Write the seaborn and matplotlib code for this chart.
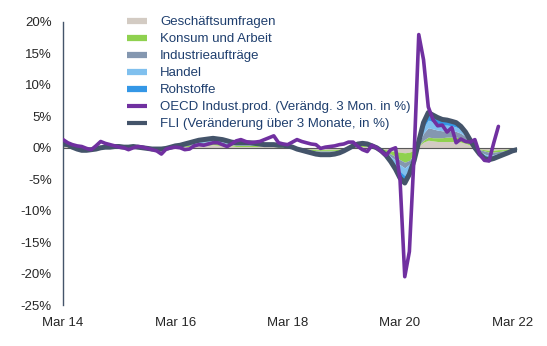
import numpy as np
import pandas as pd
import matplotlib
matplotlib.use("Agg")
import matplotlib.pyplot as plt
import seaborn as sns
from matplotlib.lines import Line2D

# Monthly observations, March 2014 to April 2022
months = pd.date_range("2014-03-01", periods=98, freq="MS")

# FLI change over 3 months, in %
fli = [0.6, 0.5, 0.1, -0.2, -0.4, -0.4, -0.3, -0.2, 0.0, 0.1,
       0.1, 0.2, 0.2, 0.1, 0.1, 0.2, 0.1, 0.0, -0.1, -0.2,
       -0.2, -0.2, -0.1, 0.1, 0.3, 0.4, 0.6, 0.8, 1.0, 1.2,
       1.3, 1.4, 1.5, 1.4, 1.3, 1.1, 0.9, 0.8, 0.8, 0.8,
       0.8, 0.7, 0.6, 0.5, 0.5, 0.5, 0.4, 0.4, 0.3, 0.1,
       -0.2, -0.4, -0.6, -0.8, -1.0, -1.1, -1.1, -1.1, -1.0, -0.8,
       -0.5, -0.1, 0.3, 0.6, 0.7, 0.6, 0.3, 0.0, -0.5, -1.2,
       -2.2, -3.4, -4.8, -5.6, -4.2, -2.0, 1.0, 4.0, 5.6, 5.2,
       4.8, 4.5, 4.4, 4.2, 4.0, 3.4, 2.5, 1.2, 0.0, -1.0,
       -1.7, -1.9, -1.7, -1.4, -1.1, -0.8, -0.5, -0.3]

# OECD industrial production, change over 3 months in % (through Dec 2021)
oecd = [1.3, 0.8, 0.5, 0.3, 0.2, -0.1, -0.3, 0.3, 1.0, 0.7,
        0.5, 0.3, 0.1, 0.0, -0.3, 0.0, 0.2, 0.1, -0.1, -0.3,
        -0.5, -1.0, -0.2, 0.0, 0.1, 0.0, -0.3, -0.2, 0.3, 0.5,
        0.4, 0.6, 0.8, 0.8, 0.5, 0.2, 0.6, 1.1, 1.3, 1.0,
        0.8, 0.9, 1.0, 1.3, 1.6, 1.9, 0.8, 0.6, 0.5, 0.9,
        1.3, 1.0, 0.8, 0.6, 0.5, -0.1, 0.1, 0.2, 0.3, 0.5,
        0.6, 0.9, 0.9, 0.2, -0.3, -0.6, 0.4, 0.0, -0.6, -1.2,
        -0.3, 0.0, -5.0, -20.5, -16.5, -1.0, 18.0, 14.0, 6.5, 4.5,
        3.5, 3.6, 2.5, 3.2, 0.8, 1.4, 1.0, 0.9, 1.3, -1.0,
        -2.0, -2.1, 0.8, 3.4]

# FLI contributions by component
geschaeftsumfragen = [0.2, 0.2, 0.0, -0.1, -0.1, -0.1, -0.1, -0.1, 0.0, 0.0,
                      0.0, 0.1, 0.1, 0.0, 0.0, 0.1, 0.0, 0.0, 0.0, -0.1,
                      -0.1, -0.1, 0.0, 0.0, 0.1, 0.1, 0.2, 0.2, 0.3, 0.4,
                      0.4, 0.4, 0.5, 0.4, 0.4, 0.3, 0.3, 0.2, 0.2, 0.2,
                      0.2, 0.2, 0.2, 0.2, 0.2, 0.2, 0.1, 0.1, 0.1, 0.0,
                      -0.1, -0.1, -0.2, -0.2, -0.3, -0.3, -0.3, -0.3, -0.3, -0.2,
                      -0.2, 0.0, 0.1, 0.2, 0.2, 0.2, 0.1, 0.0, -0.2, -0.3,
                      -0.5, -0.6, -0.7, -0.8, -0.7, -0.4, 0.3, 0.9, 1.2, 1.1,
                      1.0, 1.0, 1.0, 1.0, 1.0, 0.9, 0.7, 0.4, 0.1, -0.2,
                      -0.3, -0.4, -0.4, -0.3, -0.3, -0.2, -0.1, -0.1]
konsum_arbeit = [0.1, 0.1, 0.0, 0.0, -0.1, -0.1, -0.1, 0.0, 0.0, 0.0,
                 0.0, 0.0, 0.0, 0.0, 0.0, 0.0, 0.0, 0.0, 0.0, 0.0,
                 0.0, 0.0, 0.0, 0.0, 0.1, 0.1, 0.1, 0.2, 0.2, 0.2,
                 0.3, 0.3, 0.3, 0.3, 0.3, 0.2, 0.2, 0.2, 0.2, 0.2,
                 0.2, 0.2, 0.1, 0.1, 0.1, 0.1, 0.1, 0.1, 0.1, 0.0,
                 0.0, -0.1, -0.1, -0.2, -0.2, -0.2, -0.2, -0.2, -0.2, -0.2,
                 -0.1, 0.0, 0.1, 0.1, 0.2, 0.1, 0.1, 0.0, -0.1, -0.3,
                 -0.5, -0.8, -1.2, -1.5, -1.3, -0.6, 0.1, 0.3, 0.5, 0.5,
                 0.6, 0.6, 0.7, 0.7, 0.7, 0.6, 0.5, 0.3, 0.1, -0.1,
                 -0.2, -0.3, -0.3, -0.3, -0.2, -0.2, -0.1, -0.1]
industrieauftraege = [0.1, 0.1, 0.0, 0.0, -0.1, -0.1, 0.0, 0.0, 0.0, 0.0,
                      0.0, 0.0, 0.0, 0.0, 0.0, 0.0, 0.0, 0.0, 0.0, 0.0,
                      0.0, 0.0, 0.0, 0.0, 0.0, 0.1, 0.1, 0.2, 0.2, 0.2,
                      0.2, 0.3, 0.3, 0.3, 0.2, 0.2, 0.1, 0.1, 0.1, 0.1,
                      0.1, 0.1, 0.1, 0.1, 0.1, 0.1, 0.1, 0.1, 0.0, 0.0,
                      0.0, -0.1, -0.1, -0.1, -0.2, -0.2, -0.2, -0.2, -0.2, -0.1,
                      -0.1, 0.0, 0.0, 0.1, 0.1, 0.1, 0.0, 0.0, -0.1, -0.2,
                      -0.4, -0.6, -0.8, -0.9, -0.6, -0.3, 0.3, 1.1, 1.5, 1.4,
                      1.2, 1.1, 1.0, 1.0, 0.9, 0.8, 0.6, 0.3, 0.0, -0.3,
                      -0.5, -0.5, -0.4, -0.3, -0.2, -0.1, -0.1, 0.0]
handel = [0.1, 0.1, 0.1, -0.1, -0.1, -0.1, -0.1, -0.1, 0.0, 0.1,
          0.1, 0.1, 0.1, 0.1, 0.1, 0.1, 0.1, 0.0, -0.1, -0.1,
          -0.1, -0.1, -0.1, 0.1, 0.1, 0.1, 0.1, 0.1, 0.2, 0.3,
          0.3, 0.3, 0.3, 0.3, 0.3, 0.3, 0.2, 0.2, 0.2, 0.2,
          0.2, 0.1, 0.1, 0.1, 0.1, 0.1, 0.1, 0.1, 0.1, 0.1,
          -0.1, -0.1, -0.1, -0.2, -0.2, -0.3, -0.3, -0.3, -0.2, -0.2,
          -0.1, -0.1, 0.1, 0.1, 0.1, 0.1, 0.1, 0.0, -0.1, -0.2,
          -0.4, -0.7, -1.0, -1.2, -0.8, -0.4, 0.2, 0.9, 1.2, 1.1,
          1.0, 0.9, 0.9, 0.8, 0.7, 0.6, 0.4, 0.1, -0.1, -0.2,
          -0.3, -0.3, -0.3, -0.2, -0.2, -0.2, -0.1, -0.1]
rohstoffe = [0.1, 0.0, 0.0, 0.0, 0.0, 0.0, 0.0, 0.0, 0.0, 0.0,
             0.0, 0.0, 0.0, 0.0, 0.0, 0.0, 0.0, 0.0, 0.0, 0.0,
             0.0, 0.0, 0.0, 0.0, 0.0, 0.0, 0.1, 0.1, 0.1, 0.1,
             0.1, 0.1, 0.1, 0.1, 0.1, 0.1, 0.1, 0.1, 0.1, 0.1,
             0.1, 0.1, 0.1, 0.0, 0.0, 0.0, 0.0, 0.0, 0.0, 0.0,
             0.0, 0.0, -0.1, -0.1, -0.1, -0.1, -0.1, -0.1, -0.1, -0.1,
             0.0, 0.0, 0.0, 0.1, 0.1, 0.1, 0.0, 0.0, 0.0, -0.2,
             -0.4, -0.7, -1.1, -1.2, -0.8, -0.3, 0.1, 0.8, 1.2, 1.1,
             1.0, 0.9, 0.8, 0.7, 0.7, 0.5, 0.3, 0.1, -0.1, -0.2,
             -0.4, -0.4, -0.3, -0.3, -0.2, -0.1, -0.1, 0.0]

component_names = ["Geschäftsumfragen", "Konsum und Arbeit", "Industrieaufträge",
                   "Handel", "Rohstoffe"]
components = [geschaeftsumfragen, konsum_arbeit, industrieauftraege, handel, rohstoffe]
component_colors = ["#D3CBC3", "#8FD14F", "#8497B0", "#80C0EE", "#3497E6"]

oecd_label = "OECD Indust.prod. (Verändg. 3 Mon. in %)"
fli_label = "FLI (Veränderung über 3 Monate, in %)"
oecd_color = "#7030A0"
fli_color = "#44546A"

tick_dates = pd.to_datetime(["2014-03-01", "2016-03-01", "2018-03-01",
                             "2020-03-01", "2022-03-01"])
tick_labels = ["Mar 14", "Mar 16", "Mar 18", "Mar 20", "Mar 22"]
y_ticks = [-25, -20, -15, -10, -5, 0, 5, 10, 15, 20]

sns.set_theme(style="white")
plt.rcParams["font.family"] = ["Liberation Sans", "DejaVu Sans"]

fig = plt.figure(figsize=(5.47, 3.46), dpi=100)
ax = fig.add_axes([63 / 547, 1 - 305 / 346, (517 - 63) / 547, (305 - 22) / 346])

# Stacked contributions: positive and negative parts stacked separately
pos_base = np.zeros(len(months))
neg_base = np.zeros(len(months))
for vals, color in zip(components, component_colors):
    v = np.asarray(vals, dtype=float)
    p = np.clip(v, 0, None)
    n = np.clip(v, None, 0)
    ax.fill_between(months, pos_base, pos_base + p, color=color, lw=0, zorder=1)
    ax.fill_between(months, neg_base, neg_base + n, color=color, lw=0, zorder=1)
    pos_base = pos_base + p
    neg_base = neg_base + n

ax.axhline(0, color="#595959", lw=0.8, zorder=2)

df_fli = pd.DataFrame({"Monat": months, "Wert": fli})
df_oecd = pd.DataFrame({"Monat": months[:len(oecd)], "Wert": oecd})
sns.lineplot(data=df_fli, x="Monat", y="Wert", ax=ax, color=fli_color,
             lw=3.6, zorder=3, solid_capstyle="round")
sns.lineplot(data=df_oecd, x="Monat", y="Wert", ax=ax, color=oecd_color,
             lw=2.6, zorder=4, solid_capstyle="round")

ax.set_xlim(months[0], months[-1])
ax.set_ylim(-25, 20)
ax.set_yticks(y_ticks)
ax.set_yticklabels([f"{t}%" for t in y_ticks])
ax.set_xticks(tick_dates)
ax.set_xticklabels(tick_labels)
ax.set_xlabel("")
ax.set_ylabel("")
ax.tick_params(axis="both", length=0, labelsize=9.5, colors="#262626")
ax.tick_params(axis="y", pad=8)
ax.tick_params(axis="x", pad=9)

for side in ["top", "right", "bottom"]:
    ax.spines[side].set_visible(False)
ax.spines["left"].set_color(fli_color)
ax.spines["left"].set_linewidth(1.0)

handles = [Line2D([], [], color=c, lw=4.5, solid_capstyle="butt") for c in component_colors]
handles += [Line2D([], [], color=oecd_color, lw=3.0, solid_capstyle="butt"),
            Line2D([], [], color=fli_color, lw=3.0, solid_capstyle="butt")]
labels = component_names + [oecd_label, fli_label]
leg = fig.legend(handles, labels, loc="upper left", bbox_to_anchor=(127 / 547, 1 - 16 / 346),
                 frameon=False, fontsize=9.5, handlelength=1.5, handletextpad=1.0,
                 labelspacing=0.36, borderpad=0, borderaxespad=0)
for t in leg.get_texts():
    t.set_color("#1F3F6E")

fig.savefig("out.png", dpi=100)
